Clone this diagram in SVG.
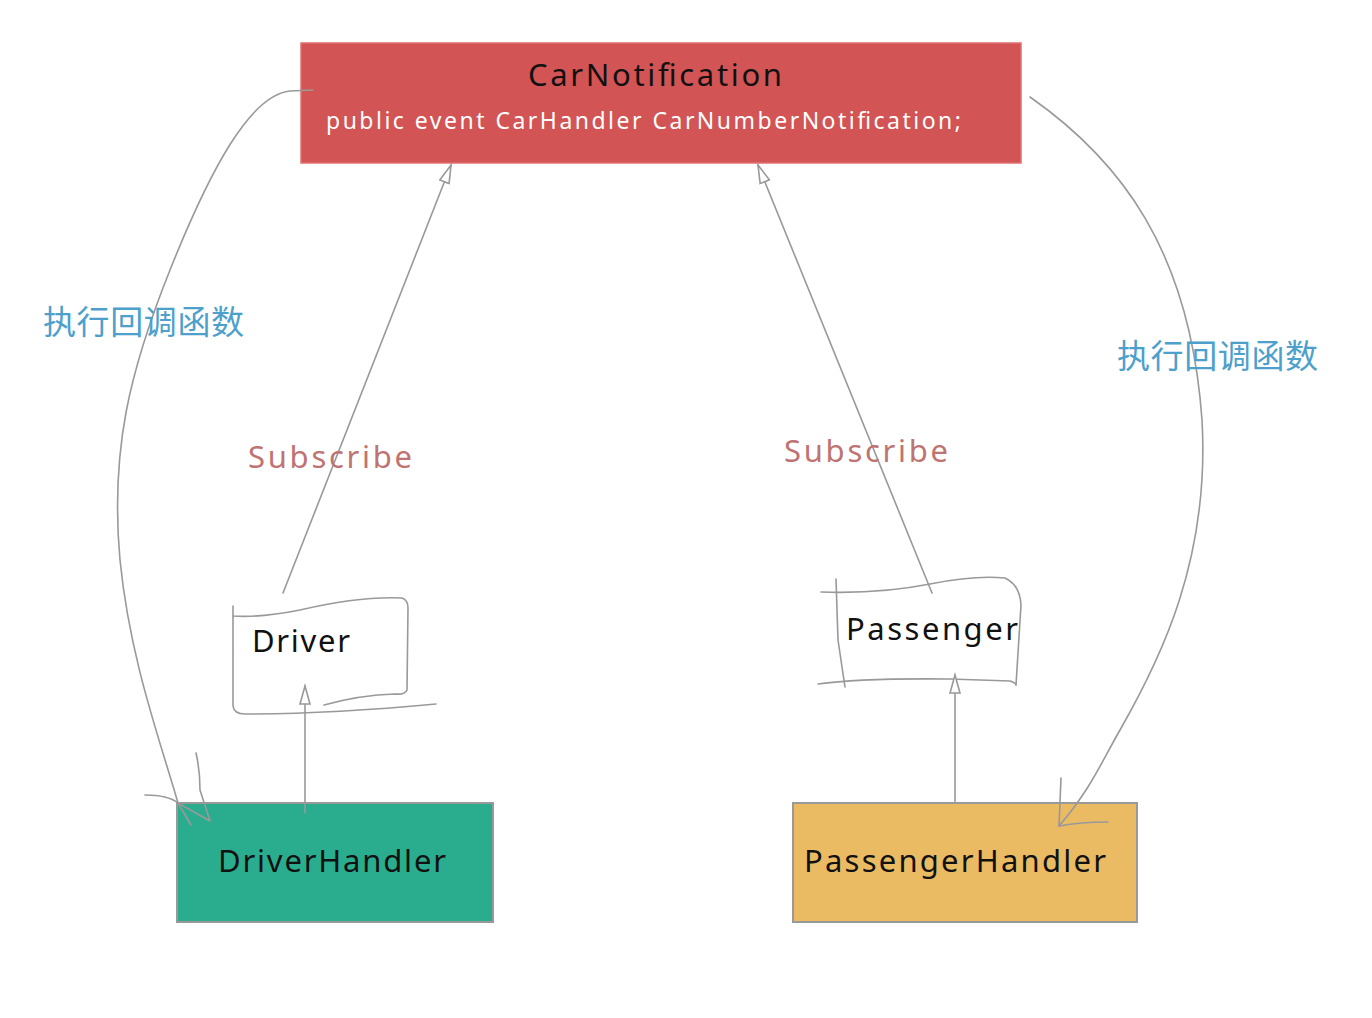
<svg xmlns="http://www.w3.org/2000/svg" width="1372" height="1018" viewBox="0 0 1372 1018">
<style>
.ln{fill:none;stroke:#999;stroke-width:1.6;stroke-linecap:round;stroke-linejoin:round}
.t{font-family:"Noto Sans","Liberation Sans",sans-serif;fill:#111;font-size:31px}
.cn{font-family:"Noto Sans CJK SC","Noto Sans",sans-serif;fill:#4DA0CC;font-size:33px}
.sub{font-family:"Noto Sans","Liberation Sans",sans-serif;fill:#C07373;font-size:31px}
</style>
<defs>
<marker id="ah" markerWidth="22" markerHeight="16" refX="19" refY="6" orient="auto" markerUnits="userSpaceOnUse">
<path d="M1,1 L19,6 L1,11 Z" fill="#fff" stroke="#999" stroke-width="1.6"/>
</marker>
</defs>
<rect width="1372" height="1018" fill="#fff"/>
<g id="CarNotification">
<rect x="301" y="43" width="720" height="120" fill="#D35454" stroke="#E07070" stroke-width="1.5"/>
<text class="t" x="528" y="86" textLength="254" lengthAdjust="spacing">CarNotification</text>
<text x="326" y="129" font-family="Noto Sans, Liberation Sans, sans-serif" font-size="23" fill="#fff" textLength="635" lengthAdjust="spacing">public event CarHandler CarNumberNotification;</text>
</g>
<g id="Driver">
<path class="ln" d="M233,606 L233,616 Q260,618 300,610 Q360,596 402,598 Q408,600 408,608 L407,690 Q405,695 395,694 Q360,695 324,705"/>
<path class="ln" d="M233,616 L233,706 Q234,714 245,714 Q330,714 436,704"/>
<text class="t" x="252" y="652" textLength="98" lengthAdjust="spacing">Driver</text>
</g>
<g id="Passenger">
<path class="ln" d="M821,592 Q880,594 930,584 Q975,575 1005,578 Q1020,585 1021,605 L1016,685"/>
<path class="ln" d="M836,579 L838,640 L845,687"/>
<path class="ln" d="M818,684 Q860,678 950,679 L1010,681 Q1016,683 1016,685"/>
<text class="t" x="846" y="640" textLength="172" lengthAdjust="spacing">Passenger</text>
</g>
<g id="DriverHandler">
<rect x="177" y="803" width="316" height="119" fill="#2AAD8E" stroke="#999" stroke-width="2"/>
<text class="t" x="218" y="872" textLength="228" lengthAdjust="spacing">DriverHandler</text>
</g>
<g id="PassengerHandler">
<rect x="793" y="803" width="344" height="119" fill="#EBBB64" stroke="#999" stroke-width="2"/>
<text class="t" x="804" y="872" textLength="302" lengthAdjust="spacing">PassengerHandler</text>
</g>
<g id="connectors">
<path class="ln" d="M283,593 L451,165" marker-end="url(#ah)"/>
<path class="ln" d="M932,593 L758,165" marker-end="url(#ah)"/>
<path class="ln" d="M305,813 L305,686" marker-end="url(#ah)"/>
<path class="ln" d="M955,802 L955,675" marker-end="url(#ah)"/>
<path class="ln" d="M313,90 L290,91 C250,95 210,170 170,270 C130,370 110,450 120,560 C130,660 160,740 178,803"/>
<path class="ln" d="M145,795 Q168,795 178,803 L191,825"/>
<path class="ln" d="M196,753 Q200,770 200,790 L210,821 L178,803"/>
<path class="ln" d="M1030,97 C1120,160 1190,250 1202,420 C1210,560 1160,660 1120,730 C1100,765 1090,790 1059,826"/>
<path class="ln" d="M1061,778 L1059,826 Q1080,822 1108,822"/>
<text class="cn" x="43" y="334" textLength="201" lengthAdjust="spacing">执行回调函数</text>
<text class="cn" x="1117" y="368" textLength="201" lengthAdjust="spacing">执行回调函数</text>
<text class="sub" x="248" y="468" textLength="164" lengthAdjust="spacing">Subscribe</text>
<text class="sub" x="784" y="462" textLength="164" lengthAdjust="spacing">Subscribe</text>
</g>
</svg>
